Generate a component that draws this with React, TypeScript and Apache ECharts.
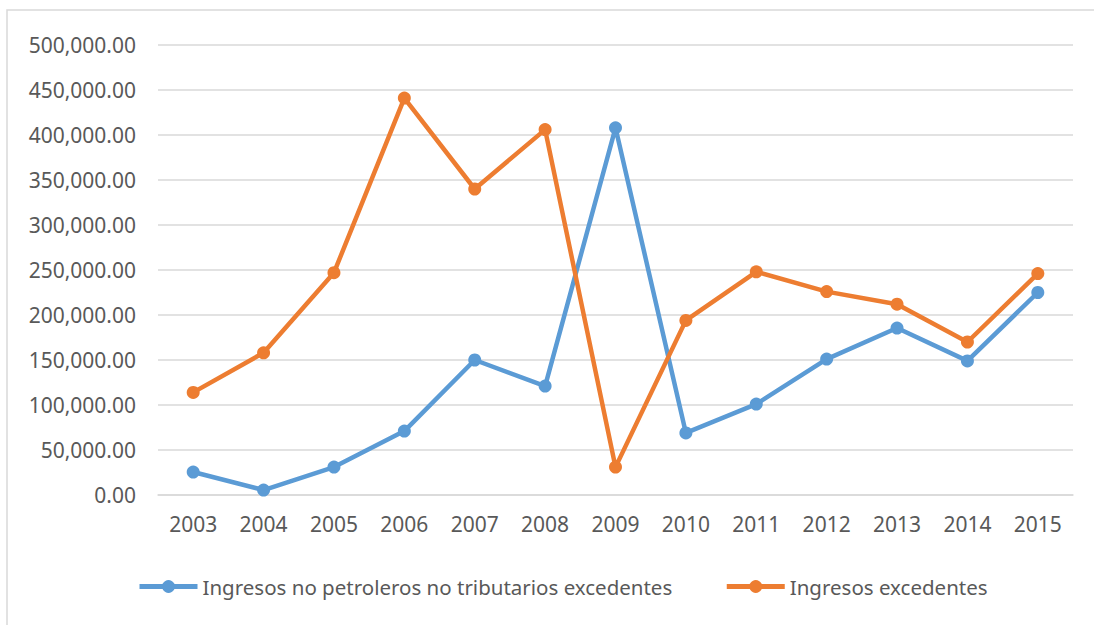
import React, { useEffect, useRef } from "react";
import * as echarts from "echarts";

const years = ["2003","2004","2005","2006","2007","2008","2009","2010","2011","2012","2013","2014","2015"];
const noPetroleros = [25500, 5500, 31000, 71000, 150000, 121000, 408000, 69000, 101000, 151000, 185500, 149000, 225000];
const excedentes = [114000, 158000, 247000, 441000, 340000, 406000, 31000, 194000, 248000, 226000, 212000, 170000, 246000];
const seriesNames = ["Ingresos no petroleros no tributarios excedentes", "Ingresos excedentes"];

const FONT = "'Noto Sans', sans-serif";
const TEXT = "#595959";

export default function App() {
  const ref = useRef<HTMLDivElement>(null);
  useEffect(() => {
    const chart = echarts.init(ref.current!, null, { renderer: "svg" });
    chart.setOption({
      animation: false,
      backgroundColor: "#ffffff",
      textStyle: { fontFamily: FONT, color: TEXT },
      graphic: [
        { type: "rect", shape: { x: 7, y: 10, width: 1200, height: 800 }, style: { fill: "none", stroke: "#d9d9d9", lineWidth: 1.5 }, silent: true },
      ],
      grid: { left: 158, right: 21, top: 45, bottom: 130, containLabel: false },
      legend: {
        left: 132,
        top: 571,
        itemWidth: 58,
        itemHeight: 16,
        itemGap: 52,
        lineStyle: { width: 5 },
        textStyle: { fontFamily: FONT, fontSize: 20.5, color: TEXT },
        data: seriesNames,
      },
      xAxis: {
        type: "category",
        data: years,
        boundaryGap: true,
        axisLine: { show: true, lineStyle: { color: "#d9d9d9", width: 1.5 } },
        axisTick: { show: false },
        axisLabel: { fontFamily: FONT, fontSize: 21, color: TEXT, margin: 18 },
      },
      yAxis: {
        type: "value",
        min: 0,
        max: 500000,
        interval: 50000,
        axisLine: { show: false },
        axisTick: { show: false },
        splitLine: { lineStyle: { color: "#d9d9d9", width: 1.5 } },
        axisLabel: {
          fontFamily: FONT,
          fontSize: 21,
          color: TEXT,
          margin: 22,
          formatter: (v: number) => v.toLocaleString("en-US", { minimumFractionDigits: 2, maximumFractionDigits: 2 }),
        },
      },
      series: [
        {
          name: seriesNames[0],
          type: "line",
          data: noPetroleros,
          symbol: "circle",
          symbolSize: 13,
          lineStyle: { color: "#5B9BD5", width: 4.5 },
          itemStyle: { color: "#5B9BD5" },
        },
        {
          name: seriesNames[1],
          type: "line",
          data: excedentes,
          symbol: "circle",
          symbolSize: 13,
          lineStyle: { color: "#ED7D31", width: 4.5 },
          itemStyle: { color: "#ED7D31" },
        },
      ],
    });
    return () => chart.dispose();
  }, []);
  return <div ref={ref} style={{ position: "fixed", left: 0, top: 0, width: 1094, height: 625 }} />;
}
